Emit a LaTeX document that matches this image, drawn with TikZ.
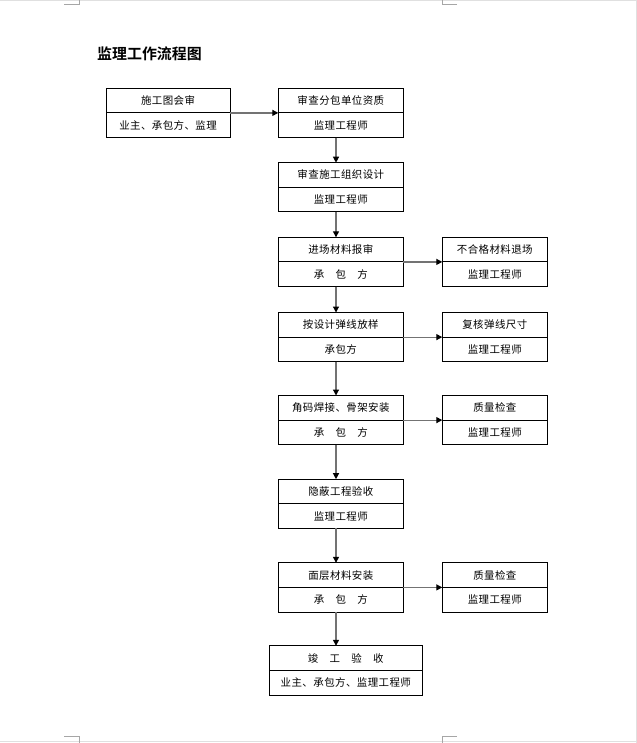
\documentclass[tikz,border=0pt]{standalone}
\usepackage{fontspec}
\setmainfont{Noto Sans CJK SC}[BoldFont={Noto Sans CJK SC Bold}]
\usetikzlibrary{arrows.meta,positioning}

\begin{document}
\begin{tikzpicture}[x=1bp,y=-1bp,
		cell/.style={draw,line width=0.9bp,minimum height=24.6bp,inner sep=0pt,outer sep=0pt,font=\fontsize{10.5}{12}\selectfont\addfontfeatures{LetterSpace=4}},
		flow/.style={draw=black!55,line width=1.2bp,-{Triangle[length=6bp,width=6bp,color=black]}},
		cropline/.style={draw=black!35,line width=0.6bp}]
			%%%%% START %%%%%
			
			\useasboundingbox (0,0) rectangle (637,743);
			
			% page edges and corner marks
			\draw[black!12,line width=1bp] (0,0.5) -- (637,0.5);
			\draw[black!12,line width=1bp] (636.5,0) -- (636.5,743);
			\draw[black!12,line width=1bp] (0,741.5) -- (637,741.5);
			\draw[cropline] (64,4.5) -- (79,4.5) -- (79,0);
			\draw[cropline] (457,4.5) -- (442,4.5) -- (442,0);
			\draw[cropline] (64,736.5) -- (79,736.5) -- (79,743);
			\draw[cropline] (457,736.5) -- (442,736.5) -- (442,743);
			
			\node[anchor=west,inner sep=0pt,font=\fontsize{15}{18}\selectfont\bfseries] (title) at (97,53.5) {监理工作流程图};
			
			% left box
			\node[cell,minimum width=124bp,anchor=north] (p0) at (168,88.3) {施工图会审};
			\node[cell,minimum width=124bp,below=0pt of p0] (p0w) {业主、承包方、监理};
			
			% main column
			\node[cell,minimum width=125bp,anchor=north] (p1) at (340.8,88.3) {审查分包单位资质};
			\node[cell,minimum width=125bp,below=0pt of p1] (p1w) {监理工程师};
			
			\node[cell,minimum width=125bp,anchor=north] (p2) at (340.8,162.7) {审查施工组织设计};
			\node[cell,minimum width=125bp,below=0pt of p2] (p2w) {监理工程师};
			
			\node[cell,minimum width=125bp,anchor=north] (p3) at (340.8,237.3) {进场材料报审};
			\node[cell,minimum width=125bp,below=0pt of p3] (p3w) {承　包　方};
			
			\node[cell,minimum width=125bp,anchor=north] (p4) at (340.8,312.5) {按设计弹线放样};
			\node[cell,minimum width=125bp,below=0pt of p4] (p4w) {承包方};
			
			\node[cell,minimum width=125bp,anchor=north] (p5) at (340.8,395.5) {角码焊接、骨架安装};
			\node[cell,minimum width=125bp,below=0pt of p5] (p5w) {承　包　方};
			
			\node[cell,minimum width=125bp,anchor=north] (p6) at (340.8,479.2) {隐蔽工程验收};
			\node[cell,minimum width=125bp,below=0pt of p6] (p6w) {监理工程师};
			
			\node[cell,minimum width=125bp,anchor=north] (p7) at (340.8,562.8) {面层材料安装};
			\node[cell,minimum width=125bp,below=0pt of p7] (p7w) {承　包　方};
			
			\node[cell,minimum width=153bp,anchor=north] (p8) at (345.8,645.8) {竣　工　验　收};
			\node[cell,minimum width=153bp,below=0pt of p8] (p8w) {业主、承包方、监理工程师};
			
			% right column
			\node[cell,minimum width=105bp,anchor=north] (q3) at (494.8,237.3) {不合格材料退场};
			\node[cell,minimum width=105bp,below=0pt of q3] (q3w) {监理工程师};
			
			\node[cell,minimum width=105bp,anchor=north] (q4) at (494.8,312.5) {复核弹线尺寸};
			\node[cell,minimum width=105bp,below=0pt of q4] (q4w) {监理工程师};
			
			\node[cell,minimum width=105bp,anchor=north] (q5) at (494.8,395.5) {质量检查};
			\node[cell,minimum width=105bp,below=0pt of q5] (q5w) {监理工程师};
			
			\node[cell,minimum width=105bp,anchor=north] (q7) at (494.8,562.8) {质量检查};
			\node[cell,minimum width=105bp,below=0pt of q7] (q7w) {监理工程师};
			
			% arrows
			\draw[flow] (p0.south east) -- (p1.south west);
			\foreach \a/\b in {1/2,2/3,3/4,4/5,5/6,6/7,7/8}
				\draw[flow] ([xshift=-4.8bp]p\a w.south) -- ([xshift=-4.8bp]p\a w.south |- p\b.north);
			\foreach \a in {3,4,5,7}
				\draw[flow] (p\a.south east) -- (q\a.south west);
			
			%%%%% END %%%%%
		\end{tikzpicture}
\end{document}
